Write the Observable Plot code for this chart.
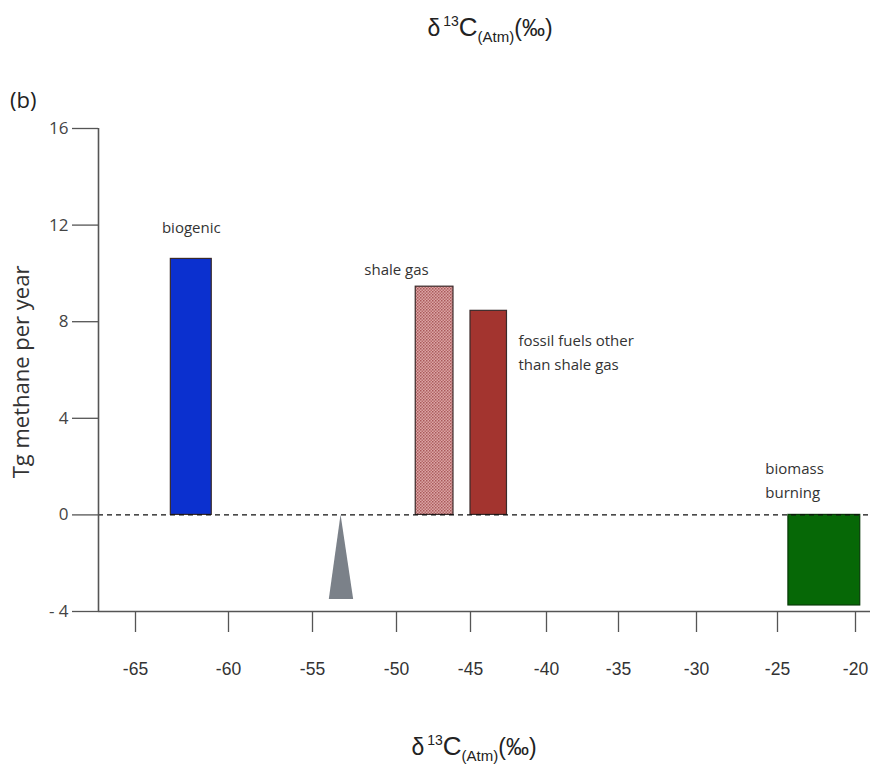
<!DOCTYPE html>
<html>
<head>
<meta charset="utf-8">
<script src="https://cdn.jsdelivr.net/npm/d3@7"></script>
<script src="https://cdn.jsdelivr.net/npm/@observablehq/plot@0.6"></script>
<style>
  html, body { margin: 0; padding: 0; background: #fff; }
  #chart svg { display: block; }
</style>
</head>
<body>
<div id="chart"></div>
<script>
// ---- data ----
const sourceNames = ["biogenic", "shale gas", "fossil fuels other than shale gas", "biomass burning"];
const sourceX1 = [-63.1, -48.7, -45.0, -24.3];     // δ13C range start (‰)
const sourceX2 = [-60.9, -46.15, -42.6, -19.7];    // δ13C range end (‰)
const sourceValues = [10.6, 9.45, 8.45, -3.75];    // Tg methane per year
const sourceColors = ["#0b30cf", "url(#shaleHatch)", "#a3342f", "#066806"];

const sinkX = [-54.0, -53.3, -52.55];              // grey triangle (δ13C)
const sinkY = [-3.5, 0, -3.5];

const labelTexts = ["biogenic", "shale gas", "fossil fuels other\nthan shale gas", "biomass\nburning"];
const labelX = [-62.0, -50.0, -41.85, -25.75];
const labelY = [12.0, 10.25, 6.8, 1.5];
const labelAnchor = ["middle", "middle", "start", "start"];

const xTicks = [-65, -60, -55, -50, -45, -40, -35, -30, -25, -20];
const yTicks = [-4, 0, 4, 8, 12, 16];

// ---- tables built from arrays ----
const bars = sourceNames.map((n, i) => ({name: n, x1: sourceX1[i], x2: sourceX2[i], v: sourceValues[i], c: sourceColors[i]}));
const tri = sinkX.map((x, i) => ({x, y: sinkY[i]}));
const labels = labelTexts.map((t, i) => ({t, x: labelX[i], y: labelY[i], a: labelAnchor[i]}));

const xMin = -67, xMax = -19.05;
const labelFont = "'Open Sans', Lato, sans-serif";

const svg = Plot.plot({
  width: 872,
  height: 769,
  marginTop: 128,
  marginBottom: 158,
  marginLeft: 98,
  marginRight: 2,
  style: {background: "#fff"},
  x: {
    type: "linear",
    // the printed axis is not evenly spaced: piecewise scale following its ticks
    domain: [xMin, -65, -60, -55, -50, -45, -40, -35, -30, -25, -20, xMax],
    range: [98, 135, 228, 312, 396, 470, 546, 618, 696, 777, 855, 870]
  },
  y: {domain: [-4, 16]},
  color: {type: "identity"},
  marks: [
    Plot.rect(bars.filter(d => d.v >= 0), {x1: "x1", x2: "x2", y1: 0, y2: "v", fill: "c", stroke: "#3a2a2a", strokeWidth: 1.2}),
    Plot.rect(bars.filter(d => d.v < 0), {x1: "x1", x2: "x2", y1: 0, y2: "v", fill: "c", stroke: "#063a06", strokeWidth: 1.2}),
    Plot.areaY(tri, {x: "x", y1: sinkY[0], y2: "y", fill: "#7b8189"}),
    Plot.ruleY([0], {x1: xMin, x2: xMax, stroke: "#111", strokeWidth: 1.3, strokeDasharray: "5,4"}),
    Plot.ruleX([xMin], {y1: -4, y2: 16, stroke: "#555", strokeWidth: 1.6}),
    Plot.ruleY([-4], {x1: xMin, x2: xMax, stroke: "#555", strokeWidth: 1.6}),
    Plot.axisX({ticks: xTicks, tickSize: 21, tickPadding: 30, fontSize: 17.5, label: null,
      tickFormat: d => "-" + Math.abs(d), stroke: "#555", strokeWidth: 1.3, color: "#333",
      fontFamily: "'Liberation Sans Narrow', 'Liberation Sans', Arial, sans-serif"}),
    Plot.axisY({ticks: yTicks, tickSize: 26, tickPadding: 4, fontSize: 17, label: null,
      tickFormat: d => d < 0 ? "- " + Math.abs(d) : String(d), stroke: "#555", strokeWidth: 1.3, color: "#444",
      fontFamily: labelFont}),
    Plot.text(labels.filter(d => d.a === "middle"), {x: "x", y: "y", text: "t", textAnchor: "middle", lineAnchor: "middle",
      lineHeight: 1.6, fontSize: 15, fill: "#333", fontFamily: labelFont}),
    Plot.text(labels.filter(d => d.a === "start"), {x: "x", y: "y", text: "t", textAnchor: "start", lineAnchor: "middle",
      lineHeight: 1.6, fontSize: 15, fill: "#333", fontFamily: labelFont})
  ]
});

const s = d3.select(svg);
// hatched pattern for shale gas
const defs = s.insert("defs", ":first-child");
const pat = defs.append("pattern").attr("id", "shaleHatch").attr("patternUnits", "userSpaceOnUse")
  .attr("width", 3).attr("height", 3);
pat.append("rect").attr("width", 3).attr("height", 3).attr("fill", "#dba6a6");
pat.append("rect").attr("width", 1.5).attr("height", 1.5).attr("fill", "#a9595a");
pat.append("rect").attr("x", 1.5).attr("y", 1.5).attr("width", 1.5).attr("height", 1.5).attr("fill", "#b86a6a");

function addTitle(cx, baseline) {
  const t = s.append("text").attr("x", cx).attr("y", baseline).attr("text-anchor", "middle")
    .attr("fill", "#222").style("font-family", "'Liberation Sans', Arial, sans-serif").style("font-size", "23px");
  t.append("tspan").text("δ");
  t.append("tspan").attr("dx", 3).attr("dy", -10).style("font-size", "14px").text("13");
  t.append("tspan").attr("dy", 10).style("font-size", "26px").text("C");
  t.append("tspan").attr("dy", 6).style("font-size", "15px").text("(Atm)");
  t.append("tspan").attr("dy", -6).style("font-size", "23px").text("(‰)");
}
addTitle(490, 36);
addTitle(474, 755);

s.append("text").attr("x", 10).attr("y", 108).attr("text-anchor", "start").attr("fill", "#222")
  .style("font-family", labelFont).style("font-size", "22px").text("(b)");

s.append("text").attr("transform", "translate(23,372) rotate(-90)").attr("text-anchor", "middle")
  .attr("dominant-baseline", "middle").attr("fill", "#333")
  .style("font-family", labelFont).style("font-size", "22px").text("Tg methane per year");

document.getElementById("chart").appendChild(svg);
</script>
</body>
</html>
